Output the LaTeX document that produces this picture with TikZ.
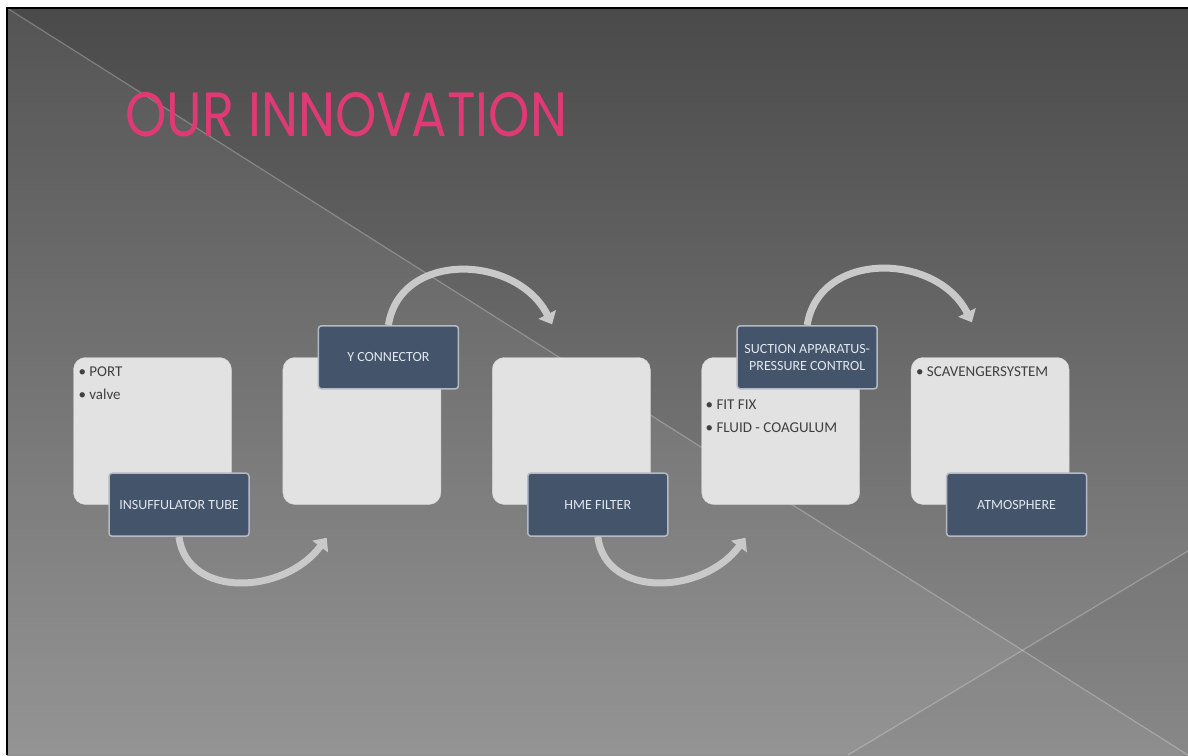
\documentclass[tikz,border=0pt]{standalone}
\usepackage{fontspec}
\usepackage{graphicx}
\setmainfont{Carlito}
\newfontfamily\titlefont{Poppins}
\usetikzlibrary{positioning,arrows.meta}

\definecolor{slidetop}{HTML}{4A4A4A}
\definecolor{slidebottom}{HTML}{8E8E8E}
\definecolor{cardfill}{HTML}{E2E2E2}
\definecolor{tagfill}{HTML}{44546A}
\definecolor{tagedge}{HTML}{B4BAC4}
\definecolor{tagtext}{HTML}{E2E6EE}
\definecolor{flowarrow}{HTML}{C9C9C9}
\definecolor{titlepink}{HTML}{E03A74}

\tikzset{
  card/.style={draw=cardfill!85!gray, fill=cardfill, rounded corners=12pt,
    minimum width=158pt, minimum height=147pt, inner sep=0pt},
  tag/.style={draw=tagedge, line width=1.5pt, fill=tagfill, rounded corners=3pt,
    minimum width=140pt, minimum height=63pt, text=tagtext, align=center,
    font=\fontsize{14}{17}\selectfont},
  items/.style={anchor=north west, inner sep=0pt, align=left, text=black!75,
    font=\fontsize{15}{23}\selectfont},
  flow/.style={draw=flowarrow, line width=7pt, -{Triangle[length=11pt,width=19pt]}},
}

\begin{document}
\begin{tikzpicture}[x=1pt,y=-1pt]
  \useasboundingbox (0,0) rectangle (1188,755);
  % slide background
  \fill[white] (0,0) rectangle (1188,755);
  \shade[top color=slidetop, bottom color=slidebottom] (7,8) rectangle (1188,755);
  \fill[white, opacity=0.06] (7,8) -- (1188,755) -- (7,755) -- cycle;
  \fill[black, opacity=0.04] (848,755) -- (1188,551) -- (1188,755) -- cycle;
  \draw[white, opacity=0.25, line width=1.2pt] (7,8) -- (1188,755);
  \draw[white, opacity=0.25, line width=1.2pt] (848,755) -- (1188,551);
  \draw[black, line width=2pt] (7,755) -- (7,8) -- (1188,8);

  \node[anchor=west, inner sep=0pt, text=titlepink] (title) at (125,115)
    {\resizebox{442pt}{44pt}{\titlefont OUR INNOVATION}};

  % the five stages
  \node[card] (cport) at (152.5,431) {};
  \node[card, right=51pt of cport] (cyconn) {};
  \node[card, right=51pt of cyconn] (chme) {};
  \node[card, right=51pt of chme] (csuction) {};
  \node[card, right=51pt of csuction] (cscav) {};

  \node[items] (lport) at ([shift={(5,9)}]cport.north west) {\textbullet\ PORT\\\textbullet\ valve};
  \node[items] (lsuction) at ([shift={(4,42)}]csuction.north west) {\textbullet\ FIT FIX\\\textbullet\ FLUID - COAGULUM};
  \node[items] (lscav) at ([shift={(5,9)}]cscav.north west) {\textbullet\ SCAVENGERSYSTEM};

  % tags on the cards
  \node[tag] (tinsuf) at ([xshift=26.5pt]cport.south) {INSUFFULATOR TUBE};
  \node[tag] (tyconn) at ([xshift=26.5pt]cyconn.north) {Y CONNECTOR};
  \node[tag] (thme) at ([xshift=26.5pt]chme.south) {HME FILTER};
  \node[tag] (tsuction) at ([xshift=26.5pt]csuction.north) {SUCTION APPARATUS-\\PRESSURE CONTROL};
  \node[tag] (tatmos) at ([xshift=26.5pt]cscav.south) {ATMOSPHERE};

  % curved arrows between stages
  \coordinate (a1) at ([shift={(44,33)}]cyconn.south west);
  \coordinate (a2) at ([shift={(60,-33)}]chme.north west);
  \coordinate (a3) at ([shift={(44,33)}]csuction.south west);
  \coordinate (a4) at ([shift={(61,-35)}]cscav.north west);
  \draw[flow] (tinsuf.south) .. controls +(8,62) and +(-42,57) .. (a1);
  \draw[flow] (tyconn.north) .. controls +(12,-75) and +(-35,-70) .. (a2);
  \draw[flow] (thme.south) .. controls +(8,62) and +(-42,57) .. (a3);
  \draw[flow] (tsuction.north) .. controls +(12,-75) and +(-35,-70) .. (a4);
\end{tikzpicture}
\end{document}
